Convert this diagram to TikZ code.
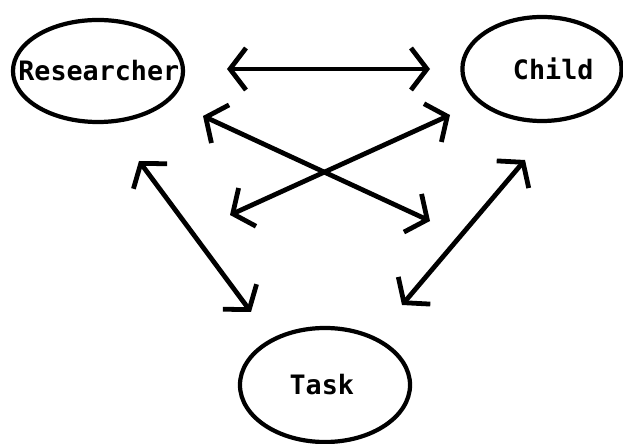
\documentclass[tikz,border=0pt]{standalone}
\usepackage{fontspec}
\setmonofont{DejaVu Sans Mono}
\usepackage{tikz}
\usetikzlibrary{arrows.meta, shapes.geometric}

\begin{document}
\begin{tikzpicture}[
    x=0.025cm, y=-0.025cm,
    font=\ttfamily\bfseries\fontsize{19}{21}\selectfont,
    party/.style={ellipse, draw, line width=3pt, inner sep=0pt},
    arrow/.style={{Straight Barb[length=0.4cm, width=1.05cm]}-{Straight Barb[length=0.4cm, width=1.05cm]}, line width=3.4pt, line cap=round}
]
\useasboundingbox (0,0) rectangle (623,444);

% Nodes (the three parties)
\node[party, minimum width=4.25cm, minimum height=2.55cm, label={[xshift=0.02cm]center:Researcher}] (researcher) at (98,71) {};
\node[party, minimum width=3.98cm, minimum height=2.6cm, label={[xshift=0.28cm]center:Child}] (child) at (542,69) {};
\node[party, minimum width=4.25cm, minimum height=2.85cm, label={[xshift=-0.08cm]center:Task}] (task) at (325,385) {};

% Arrow ends
\coordinate (rc-a) at (227,69);
\coordinate (rc-b) at (430,69);
\coordinate (x1-a) at (203,116);
\coordinate (x1-b) at (430,221);
\coordinate (x2-a) at (450,115);
\coordinate (x2-b) at (230,215);
\coordinate (rt-a) at (139,161);
\coordinate (rt-b) at (251,312);
\coordinate (ct-a) at (525,160);
\coordinate (ct-b) at (402,305);

% Arrows
\draw[arrow] (rc-a) -- (rc-b);
\draw[arrow] (x1-a) -- (x1-b);
\draw[arrow] (x2-a) -- (x2-b);
\draw[arrow] (rt-a) -- (rt-b);
\draw[arrow] (ct-a) -- (ct-b);

\end{tikzpicture}
\end{document}
